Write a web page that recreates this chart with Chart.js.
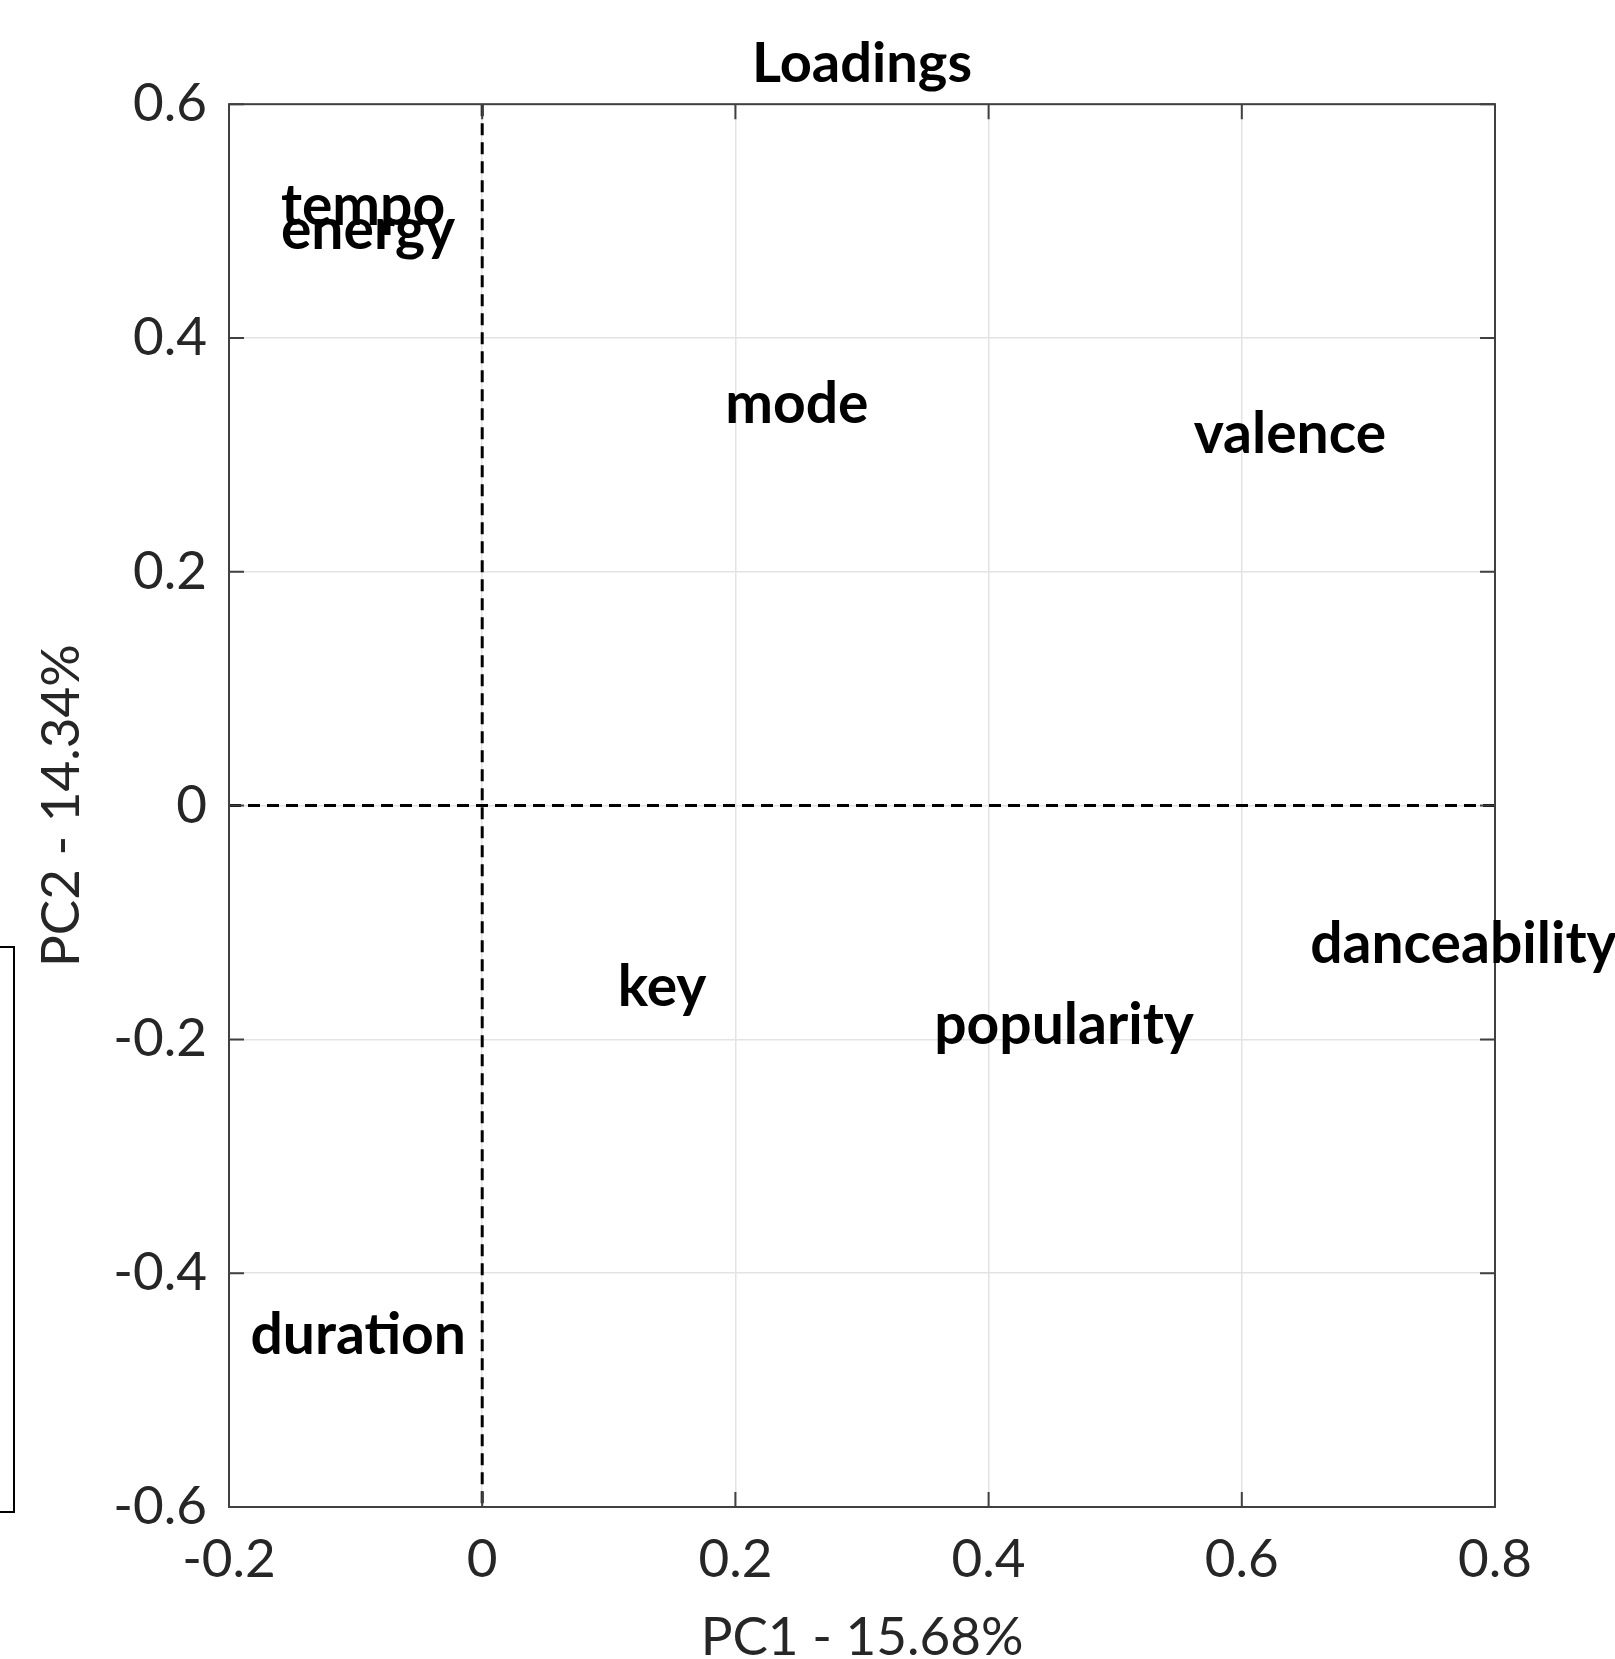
<!DOCTYPE html>
<html>
<head>
<meta charset="utf-8">
<script src="https://cdn.jsdelivr.net/npm/chart.js@4.4.0/dist/chart.umd.min.js"></script>
<style>
	body { margin: 0; background: #fff; }
	#wrap { position: relative; width: 1615px; height: 1659px; overflow: hidden; }
	#side_box { position: absolute; left: -4px; top: 946px; width: 15px; height: 563px; border: 2px solid #000; }
</style>
</head>
<body>
<div id="wrap">
	<canvas id="loadings" width="1615" height="1659"></canvas>
	<div id="side_box"></div>
</div>
<script>
// loadings
var feature_names = ["tempo", "energy", "mode", "valence", "danceability", "key", "popularity", "duration"];
var pc1_loadings = [-0.159, -0.159, 0.192, 0.562, 0.654, 0.107, 0.357, -0.183];
var pc2_loadings = [0.512, 0.492, 0.343, 0.317, -0.119, -0.156, -0.188, -0.453];

var x_ticks = [-0.2, 0, 0.2, 0.4, 0.6, 0.8];
var y_ticks = [-0.6, -0.4, -0.2, 0, 0.2, 0.4, 0.6];
var chart_title = "Loadings";
var x_title = "PC1 - 15.68%";
var y_title = "PC2 - 14.34%";

var font_family = "Lato, 'Open Sans', sans-serif";

// dashed zero lines, box, inward ticks, then the text labels
var framePlugin = {
	id: 'frame',
	beforeDatasetsDraw(chart) {
		const ctx = chart.ctx, a = chart.chartArea;
		const xs = chart.scales.x, ys = chart.scales.y;
		ctx.save();
		ctx.strokeStyle = '#000';
		ctx.lineWidth = 3;
		ctx.setLineDash([12, 7]);
		ctx.beginPath();
		ctx.moveTo(xs.getPixelForValue(0), a.top);
		ctx.lineTo(xs.getPixelForValue(0), a.bottom);
		ctx.moveTo(a.left, ys.getPixelForValue(0));
		ctx.lineTo(a.right, ys.getPixelForValue(0));
		ctx.stroke();
		ctx.setLineDash([]);

		ctx.strokeStyle = '#404040';
		ctx.lineWidth = 2;
		ctx.strokeRect(a.left, a.top, a.right - a.left, a.bottom - a.top);
		ctx.beginPath();
		x_ticks.forEach(v => {
			const px = xs.getPixelForValue(v);
			ctx.moveTo(px, a.bottom); ctx.lineTo(px, a.bottom - 15);
			ctx.moveTo(px, a.top); ctx.lineTo(px, a.top + 15);
		});
		y_ticks.forEach(v => {
			const py = ys.getPixelForValue(v);
			ctx.moveTo(a.left, py); ctx.lineTo(a.left + 15, py);
			ctx.moveTo(a.right, py); ctx.lineTo(a.right - 15, py);
		});
		ctx.stroke();
		ctx.restore();
	},
	afterDatasetsDraw(chart) {
		const ctx = chart.ctx;
		const meta = chart.getDatasetMeta(0);
		ctx.save();
		ctx.font = "bold 57px " + font_family;
		ctx.fillStyle = '#000';
		ctx.textAlign = 'left';
		ctx.textBaseline = 'middle';
		meta.data.forEach((pt, i) => {
			ctx.fillText(feature_names[i], pt.x, pt.y);
		});
		ctx.restore();
	}
};

class LoadingsPlot {
	constructor(area){
		this.area = area;
	}

	createData() {
		return pc1_loadings.map((v, i) => ({x: v, y: pc2_loadings[i]}));
	}

	tickFormat(value) {
		return Number(value.toFixed(1)).toString();
	}

	createSettings() {
		const tickFont = {family: font_family, size: 53};
		const gridSet = {color: '#e3e3e3', lineWidth: 1.5, drawTicks: false};
		return {
			type: 'scatter',
			data: {
				datasets: [{
					data: this.createData(),
					pointRadius: 0,
					pointHoverRadius: 0
				}]
			},
			options: {
				responsive: false,
				animation: false,
				events: [],
				layout: {padding: {left: 0, top: 0, right: 120, bottom: 0}},
				plugins: {
					legend: {display: false},
					tooltip: {enabled: false},
					title: {
						display: true,
						fullSize: false,
						text: chart_title,
						color: '#000',
						font: {family: font_family, size: 56, weight: 'bold', lineHeight: 1.2},
						padding: {top: 30, bottom: 7}
					}
				},
				scales: {
					x: {
						type: 'linear',
						min: -0.2, max: 0.8,
						afterBuildTicks: s => { s.ticks = x_ticks.map(v => ({value: v})); },
						afterFit: s => { s.height = 152; },
						grid: gridSet,
						border: {display: false},
						ticks: {color: '#262626', font: tickFont, padding: 21, callback: v => this.tickFormat(v)},
						title: {
							display: true, text: x_title, color: '#262626',
							font: {family: font_family, size: 53, lineHeight: 0.8},
							padding: {top: 0, bottom: 0}
						}
					},
					y: {
						type: 'linear',
						min: -0.6, max: 0.6,
						afterBuildTicks: s => { s.ticks = y_ticks.map(v => ({value: v})); },
						afterFit: s => { s.width = 229; },
						grid: gridSet,
						border: {display: false},
						ticks: {color: '#262626', font: tickFont, padding: 22, callback: v => this.tickFormat(v)},
						title: {
							display: true, text: y_title, color: '#262626',
							font: {family: font_family, size: 53, lineHeight: 1.2},
							padding: {top: 30, bottom: 0}
						}
					}
				}
			},
			plugins: [framePlugin]
		};
	}

	plotChart() {
		this.chart = new Chart(this.area, this.createSettings());
	}
}

var plot = new LoadingsPlot(document.getElementById('loadings'));
plot.plotChart();
</script>
</body>
</html>
